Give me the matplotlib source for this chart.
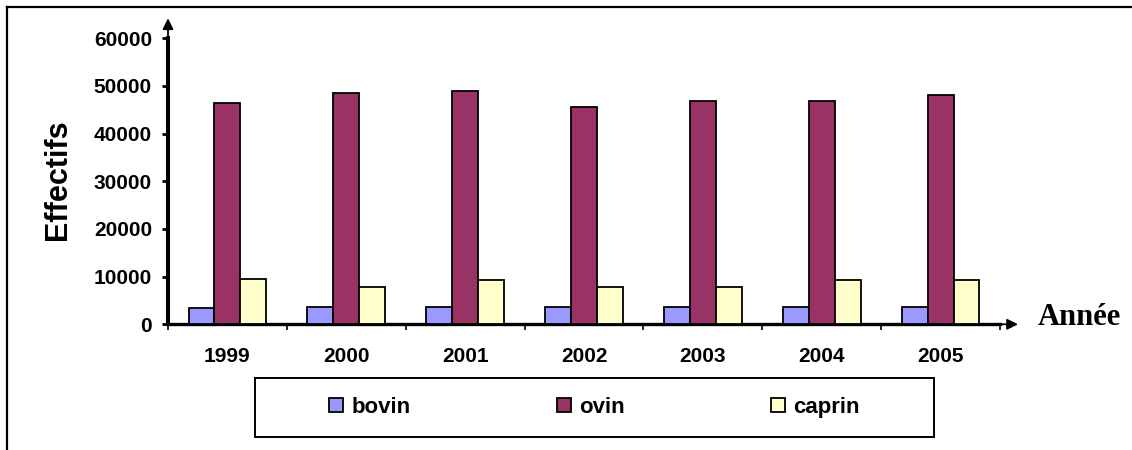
import numpy as np
import matplotlib
matplotlib.use("Agg")
import matplotlib.pyplot as plt
from matplotlib.patches import Patch, Rectangle
from matplotlib.lines import Line2D

plt.rcParams['font.family'] = ['Liberation Sans', 'DejaVu Sans']
plt.rcParams['font.weight'] = 'bold'

annees = ['1999', '2000', '2001', '2002', '2003', '2004', '2005']
bovin = [3400, 3700, 3700, 3700, 3700, 3700, 3700]
ovin = [46400, 48600, 49000, 45650, 46900, 46900, 48200]
caprin = [9550, 7900, 9250, 7900, 7900, 9250, 9250]

especes = ['bovin', 'ovin', 'caprin']
couleurs = ['#9999FF', '#993366', '#FFFFCC']

W, H = 1132, 450
fig = plt.figure(figsize=(W / 100, H / 100), dpi=100)

# axes placed in pixel units
x0, x1 = 168, 1000
y_top, y_base = 38.3, 324.3
ax = fig.add_axes([x0 / W, 1 - y_base / H, (x1 - x0) / W, (y_base - y_top) / H])

x = np.arange(len(annees))
larg = 0.218
for i, (vals, c) in enumerate(zip([bovin, ovin, caprin], couleurs)):
    ax.bar(x + (i - 1) * larg, vals, width=larg, color=c,
           edgecolor='black', linewidth=1.3, zorder=3)

ax.set_xlim(-0.5, len(annees) - 0.5)
ax.set_ylim(0, 60000)
ax.set_yticks(np.arange(0, 60001, 10000))
ax.set_xticks(x)
ax.set_xticklabels(annees)
ax.set_xticks(np.arange(-0.5, len(annees), 1), minor=True)

for s in ['top', 'right']:
    ax.spines[s].set_visible(False)
ax.spines['left'].set_linewidth(2.9)
ax.spines['bottom'].set_linewidth(2.4)

ax.tick_params(axis='y', direction='out', length=4.5, width=2, pad=7, labelsize=15)
ax.tick_params(axis='x', which='major', length=0, pad=16, labelsize=15)
ax.tick_params(axis='x', which='minor', direction='out', length=4, width=1.2)

# arrow heads on both axes
ax.annotate('', xy=(0, 1 + 20 / (y_base - y_top)), xytext=(0, 1),
            xycoords='axes fraction', annotation_clip=False,
            arrowprops=dict(arrowstyle='-|>', lw=1.3, color='black', mutation_scale=16,
                            shrinkA=0, shrinkB=0))
ax.annotate('', xy=(1 + 18 / (x1 - x0), 0), xytext=(1, 0),
            xycoords='axes fraction', annotation_clip=False,
            arrowprops=dict(arrowstyle='-|>', lw=1.3, color='black', mutation_scale=16,
                            shrinkA=0, shrinkB=0))

fig.text(57.5 / W, 1 - 179.5 / H, 'Effectifs', rotation=90, fontsize=22,
         fontweight='bold', ha='center', va='center')
fig.text(1038 / W, 1 - 317.5 / H, 'Année', fontsize=22, fontweight='bold',
         family=['Liberation Serif', 'DejaVu Serif'], ha='left', va='center')

# legend with its own frame
lx0, lx1, ly0, ly1 = 255, 934, 378.3, 436.7
fig.patches.append(Rectangle((lx0 / W, 1 - ly1 / H), (lx1 - lx0) / W, (ly1 - ly0) / H,
                             transform=fig.transFigure, fill=False,
                             edgecolor='black', linewidth=1.4))
handles = [Patch(facecolor=c, edgecolor='black', linewidth=1.3) for c in couleurs]
fig.legend(handles, especes, ncol=3, loc='center',
           bbox_to_anchor=((lx0 + lx1) / 2 / W, 1 - (ly0 + ly1) / 2 / H),
           frameon=False, fontsize=16, handlelength=0.63, handleheight=0.63,
           handletextpad=0.36, columnspacing=6.6, borderpad=0, borderaxespad=0)

# outer border (top and left edges)
fig.add_artist(Line2D([7 / W, 1], [1 - 7 / H, 1 - 7 / H], transform=fig.transFigure,
                      color='black', linewidth=1.6))
fig.add_artist(Line2D([7 / W, 7 / W], [0, 1 - 7 / H], transform=fig.transFigure,
                      color='black', linewidth=1.6))

fig.savefig('out.png', dpi=100)
